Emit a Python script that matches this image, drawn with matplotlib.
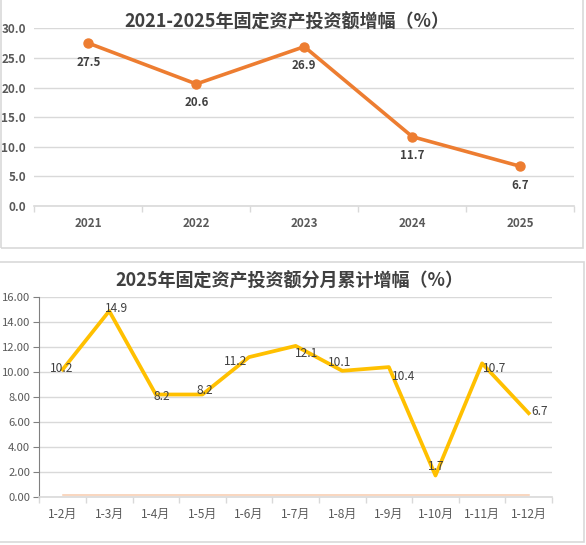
import matplotlib
matplotlib.use("Agg")
import matplotlib.pyplot as plt
from matplotlib.patches import Rectangle
import numpy as np

plt.rcParams['font.family'] = ['Noto Sans CJK SC', 'DejaVu Sans']

#%% data
years = ['2021', '2022', '2023', '2024', '2025']
year_growth = [27.5, 20.6, 26.9, 11.7, 6.7]

months = ['1-2月', '1-3月', '1-4月', '1-5月', '1-6月', '1-7月',
          '1-8月', '1-9月', '1-10月', '1-11月', '1-12月']
month_growth = [10.2, 14.9, 8.2, 8.2, 11.2, 12.1, 10.1, 10.4, 1.7, 10.7, 6.7]
month_base = [0.15, 0.15, 0.15, 0.15, 0.15, 0.15, 0.15, 0.15, 0.15, 0.15, 0.15]

# label offsets for the monthly chart (pixels, x right / y up)
label_dx = [-1, 7, 6, 2, -13, 11, -3, 15, 1, 13, 11]
label_dy = [1, 3, -2, 4, -4, -8, 8, -9, 9, -5, 2]

W, H = 586, 545
GRID = '#D9D9D9'
TICK = '#595959'
TEXT = '#404040'

fig = plt.figure(figsize=(W / 100, H / 100), dpi=100)

def box(x0, y0, x1, y1):
    # pixel coords (top-left origin) -> figure fraction
    return [x0 / W, 1 - y1 / H, (x1 - x0) / W, (y1 - y0) / H]

# panel frames
for (x0, y0, x1, y1) in [(0.5, -5, 582.7, 247.7), (-5, 261.7, 584, 541.7)]:
    fig.patches.append(Rectangle((x0 / W, 1 - y1 / H), (x1 - x0) / W, (y1 - y0) / H,
                                 transform=fig.transFigure, fill=False,
                                 edgecolor=GRID, lw=1.2))

#%% top chart
ax1 = fig.add_axes(box(34.3, 28.3, 574.3, 206))
x1 = np.arange(len(years))
ax1.plot(x1, year_growth, color='#ED7D31', lw=2.6, marker='o', ms=6.5, zorder=3)
for xi, v in zip(x1, year_growth):
    ax1.annotate(f'{v:.1f}', (xi, v), xytext=(0, -19), textcoords='offset pixels',
                 ha='center', va='center', fontsize=8.3, fontweight='bold', color=TEXT)
ax1.set_xlim(-0.5, len(years) - 0.5)
ax1.set_ylim(0, 30)
ax1.set_yticks(np.arange(0, 31, 5))
ax1.set_yticklabels([f'{t:.1f}' for t in np.arange(0, 31, 5)])
ax1.set_xticks(x1)
ax1.set_xticklabels(years)
ax1.set_xticks(np.arange(-0.5, len(years)), minor=True)
ax1.tick_params(axis='x', which='major', length=0, pad=8, labelsize=8.4, labelcolor=TICK)
ax1.tick_params(axis='x', which='minor', length=4, color=GRID, width=1)
ax1.tick_params(axis='y', length=0, pad=6, labelsize=8.4, labelcolor=TICK)
for lab in ax1.get_xticklabels() + ax1.get_yticklabels():
    lab.set_fontweight('bold')
ax1.grid(axis='y', color=GRID, lw=1)
ax1.set_axisbelow(True)
for s in ['top', 'right', 'left']:
    ax1.spines[s].set_visible(False)
ax1.spines['bottom'].set_color(GRID)
ax1.spines['bottom'].set_linewidth(1.2)
fig.text(287 / W, 1 - 22.7 / H, '2021-2025年固定资产投资额增幅（%）', ha='center', va='center',
         fontsize=13, fontweight='bold', color=TEXT)

#%% bottom chart
ax2 = fig.add_axes(box(39.3, 297.3, 552, 496.7))
x2 = np.arange(len(months))
ax2.plot(x2, month_base, color='#F8CBAD', lw=1.1, zorder=2)
ax2.plot(x2, month_growth, color='#FFC000', lw=2.7, zorder=3)
for xi, v, dx, dy in zip(x2, month_growth, label_dx, label_dy):
    ax2.annotate(f'{v:.1f}', (xi, v), xytext=(dx, dy), textcoords='offset pixels',
                 ha='center', va='center', fontsize=8.6, color=TEXT, zorder=4)
ax2.set_xlim(-0.5, len(months) - 0.5)
ax2.set_ylim(0, 16)
ax2.set_yticks(np.arange(0, 17, 2))
ax2.set_yticklabels([f'{t:.2f}' for t in np.arange(0, 17, 2)])
ax2.set_xticks(x2)
ax2.set_xticklabels(months)
ax2.set_xticks(np.arange(-0.5, len(months)), minor=True)
ax2.tick_params(axis='x', which='major', length=0, pad=8, labelsize=8.6, labelcolor=TICK)
ax2.tick_params(axis='x', which='minor', length=4, color=GRID, width=1)
ax2.tick_params(axis='y', length=4, color='#808080', pad=2.5, labelsize=8.1, labelcolor=TICK)
ax2.grid(axis='y', color=GRID, lw=1)
ax2.set_axisbelow(True)
for s in ['top', 'right']:
    ax2.spines[s].set_visible(False)
ax2.spines['left'].set_color('#808080')
ax2.spines['bottom'].set_color(GRID)
ax2.spines['bottom'].set_linewidth(1.2)
fig.text(289 / W, 1 - 281.7 / H, '2025年固定资产投资额分月累计增幅（%）', ha='center', va='center',
         fontsize=13, fontweight='bold', color=TEXT)

fig.savefig('out.png', dpi=100)
